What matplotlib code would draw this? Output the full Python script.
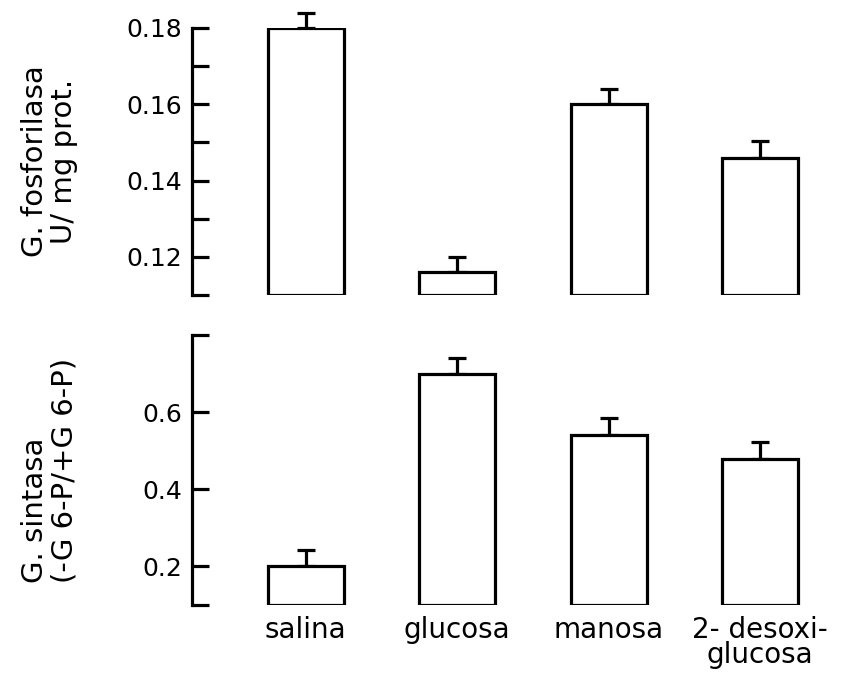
import matplotlib.pyplot as plt
import numpy as np

# ---------------- data ----------------
categories = ['salina', 'glucosa', 'manosa', '2- desoxi-\nglucosa']
fosforilasa = [0.180, 0.116, 0.160, 0.146]
fosforilasa_err = [0.004, 0.004, 0.004, 0.0045]
sintasa = [0.20, 0.70, 0.54, 0.48]
sintasa_err = [0.044, 0.040, 0.045, 0.044]

top_ticks = [0.12, 0.14, 0.16, 0.18]
top_minor = [0.11, 0.13, 0.15, 0.17]
bottom_ticks = [0.2, 0.4, 0.6]
bottom_minor = [0.1, 0.8]

plt.rcParams['font.family'] = 'DejaVu Sans'
x = np.arange(len(categories))

fig = plt.figure(figsize=(8.61, 6.73), dpi=100)
ax1 = fig.add_axes([0.223, 0.5617, 0.748, 0.3967])
ax2 = fig.add_axes([0.223, 0.101, 0.748, 0.401])


def draw_panel(ax, vals, errs, base, top, ticks, minor, ylabel, malign):
    heights = [v - base for v in vals]
    ax.bar(x, heights, bottom=base, width=0.5, color='white',
           edgecolor='black', linewidth=2.3, zorder=2)
    # only the upper half of the error bar is drawn in the original
    eb = ax.errorbar(x, vals, yerr=[np.zeros(len(vals)), errs], fmt='none',
                     ecolor='black', elinewidth=2.3, capsize=6.5,
                     capthick=2.3, zorder=1)
    for art in eb.get_children():
        art.set_clip_on(False)
    ax.set_xlim(-0.75, 3.5)
    ax.set_ylim(base, top)
    for s in ['top', 'right', 'bottom']:
        ax.spines[s].set_visible(False)
    ax.spines['left'].set_linewidth(2.3)
    ax.set_yticks(ticks)
    ax.set_yticks(minor, minor=True)
    ax.tick_params(axis='y', which='both', direction='in', width=2.3,
                   length=12, labelsize=18, pad=7)
    ax.set_ylabel(ylabel, fontsize=21, multialignment=malign,
                  linespacing=1.05)
    ax.yaxis.set_label_coords(-0.177, 0.5)


draw_panel(ax1, fosforilasa, fosforilasa_err, 0.11, 0.18,
           top_ticks, top_minor, 'G. fosforilasa\nU/ mg prot.', 'center')
ax1.set_yticklabels(['0.12', '0.14', '0.16', '0.18'])
ax1.set_xticks([])

draw_panel(ax2, sintasa, sintasa_err, 0.1, 0.8,
           bottom_ticks, bottom_minor, 'G. sintasa\n(-G 6-P/+G 6-P)', 'left')
ax2.set_yticklabels(['0.2', '0.4', '0.6'])
ax2.set_xticks(x)
ax2.set_xticklabels(categories, fontsize=20, linespacing=0.85)
ax2.tick_params(axis='x', length=0, pad=8)

fig.savefig('out.png', dpi=100, facecolor='white')
